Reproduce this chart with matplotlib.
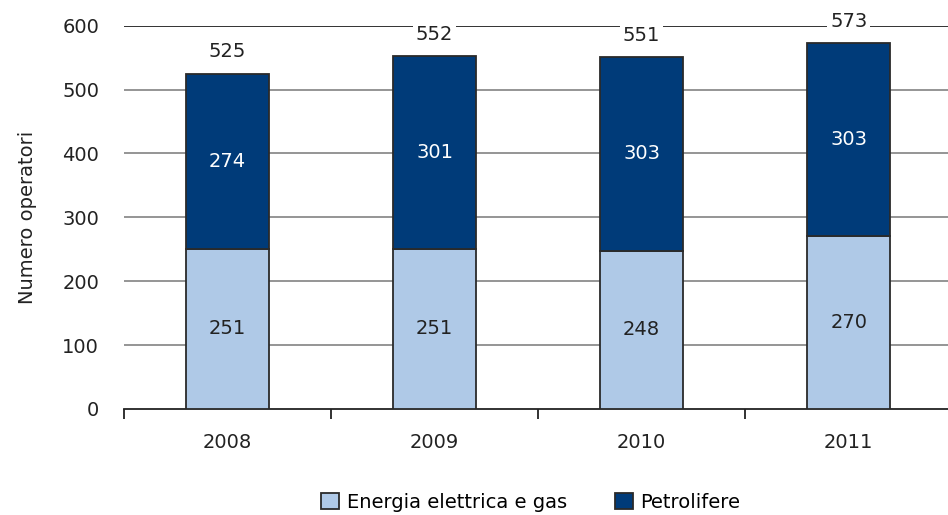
import numpy as np
import matplotlib.pyplot as plt

years = ["2008", "2009", "2010", "2011"]
energia = [251, 251, 248, 270]
petrolifere = [274, 301, 303, 303]
totali = [525, 552, 551, 573]

plt.rcParams['font.family'] = ['DejaVu Sans']

fig = plt.figure(figsize=(9.48, 5.15), dpi=100)
ax = fig.add_axes([0.131, 0.206, 0.8734, 0.744])

x = np.arange(len(years))
w = 0.40
c_light = "#AFC9E7"
c_dark = "#003B79"
fs = 14

b1 = ax.bar(x, energia, w, color=c_light, edgecolor="#2a2a2a", linewidth=1.3,
            label="Energia elettrica e gas", zorder=3)
b2 = ax.bar(x, petrolifere, w, bottom=energia, color=c_dark, edgecolor="#2a2a2a",
            linewidth=1.3, label="Petrolifere", zorder=3)

for i in range(len(years)):
    ax.text(x[i], energia[i] / 2, str(energia[i]), ha="center", va="center",
            fontsize=fs, color="#222222", zorder=4)
    ax.text(x[i], energia[i] + petrolifere[i] / 2, str(petrolifere[i]),
            ha="center", va="center", fontsize=fs, color="white", zorder=4)
    ax.text(x[i], totali[i] + 34, str(totali[i]), ha="center", va="center",
            fontsize=fs, color="#222222", zorder=4,
            bbox=dict(facecolor="white", edgecolor="none", pad=2))

ax.set_xlim(-0.5, len(years) - 0.5)
ax.set_ylim(0, 600)
ax.set_yticks(range(0, 601, 100))
for yv in range(100, 600, 100):
    ax.axhline(yv, color="#8c8c8c", linewidth=1.3, zorder=1)
ax.axhline(600, color="#222222", linewidth=1.3, zorder=1)

ax.set_xticks(x)
ax.set_xticklabels(years, fontsize=fs, color="#222222")
ax.set_xticks(np.arange(-0.5, len(years), 1), minor=True)
ax.tick_params(axis="x", which="major", length=0, pad=17)
ax.tick_params(axis="x", which="minor", length=7, width=1.3, color="#222222")
ax.tick_params(axis="y", length=0, labelsize=fs, labelcolor="#222222", pad=18)

for s in ["top", "right", "left"]:
    ax.spines[s].set_visible(False)
ax.spines["bottom"].set_color("#222222")
ax.spines["bottom"].set_linewidth(1.3)

ax.set_ylabel("Numero operatori", fontsize=fs, color="#222222", labelpad=18)

fig.legend(handles=[b1, b2], loc="lower center", bbox_to_anchor=(0.56, -0.028),
           ncol=2, frameon=False, fontsize=fs, handlelength=0.9, handleheight=0.9,
           columnspacing=2.5, handletextpad=0.4)

fig.savefig("out.png", dpi=100)
